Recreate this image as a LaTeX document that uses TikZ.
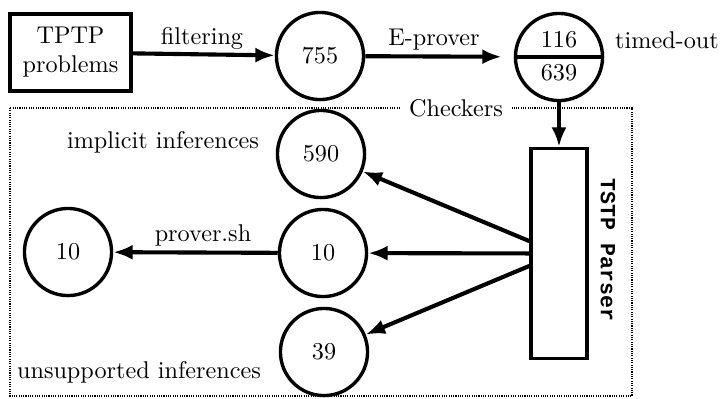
\documentclass[tikz,border=0pt]{standalone}
\usepackage{fontspec}
\newfontfamily\parserfont{Liberation Mono}
\usetikzlibrary{arrows.meta}
\begin{document}
\begin{tikzpicture}[x=0.4132pt,y=-0.4132pt,
  num/.style={circle,draw,line width=1.4pt,minimum size=36pt,inner sep=0pt},
  flow/.style={-{Latex[length=8pt,width=6.2pt]},line width=1.7pt},
  lbl/.style={inner sep=0pt}]
\useasboundingbox (0,0) rectangle (722,398);
% frame
\draw[dash pattern=on 0.45pt off 0.5pt,line width=0.65pt] (10,108) rectangle (632,396);
\node[fill=white,inner xsep=4pt,inner ysep=1pt] (chk) at (456,108) {Checkers};
% top row
\node[draw,line width=1.7pt,minimum width=50pt,minimum height=31.8pt,align=center,inner sep=0pt] (tptp) at (70.5,52.5) {TPTP\\problems};
\node[num] (a) at (320,56) {755};
\node[num] (b) at (559,57) {};
\draw[line width=1.4pt] (b.west) -- (b.east);
\node[lbl] (b1) at (559,40) {116};
\node[lbl] (b2) at (559,73) {639};
% parser
\node[draw,line width=1.4pt,minimum width=23.1pt,minimum height=86.8pt,inner sep=0pt] (p) at (559,253.5) {};
\node[rotate=-90,lbl] (pl) at (608,250) {\parserfont\bfseries\fontsize{8.9}{10}\selectfont TSTP Parser};
% checker circles
\node[num] (c590) at (321,154) {590};
\node[num] (c10) at (323,253) {10};
\node[num] (c39) at (324,352) {39};
\node[num] (d10) at (68,252) {10};
% labels
\node[lbl] (l1) at (202,38) {filtering};
\node[lbl] (l2) at (434,40) {E-prover};
\node[lbl] (l3) at (667,40) {timed-out};
\node[lbl] (l4) at (163,142) {implicit inferences};
\node[lbl] (l5) at (139,372) {unsupported inferences};
\node[lbl] (l6) at (203,235) {prover.sh};
% connectors
\draw[flow] (tptp) -- (a);
\draw[flow,shorten >=5pt] (a) -- (b);
\draw[flow] (b) -- (p);
\draw[flow] (p) -- (c590);
\draw[flow] (p) -- (c10);
\draw[flow] (p) -- (c39);
\draw[flow] (c10) -- (d10);
\end{tikzpicture}
\end{document}
